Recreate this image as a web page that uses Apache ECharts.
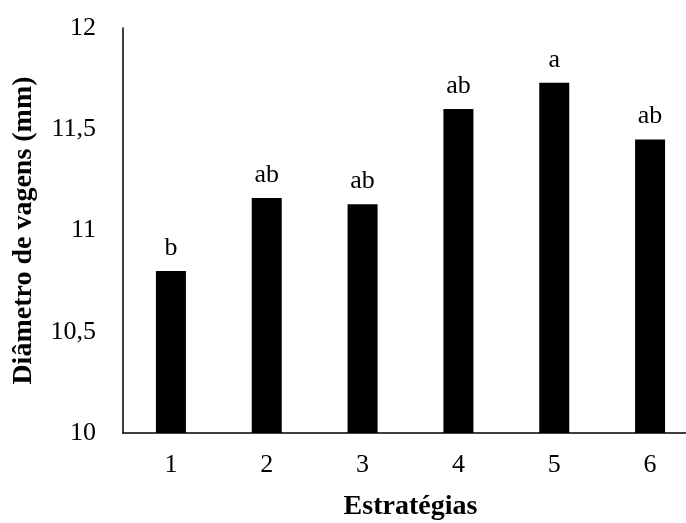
<!DOCTYPE html>
<html>
<head>
<meta charset="utf-8">
<script src="https://cdn.jsdelivr.net/npm/echarts@6/dist/echarts.min.js"></script>
<style>
  html, body { margin: 0; padding: 0; background: #fff; }
  #main { width: 686px; height: 523px; }
</style>
</head>
<body>
<div id="main"></div>
<script>
// valores
const estrategias = ['1', '2', '3', '4', '5', '6']
const diametro = [10.8, 11.16, 11.13, 11.6, 11.73, 11.45]
const letras = ['b', 'ab', 'ab', 'ab', 'a', 'ab']

const serif = '"Liberation Serif", "Times New Roman", serif'

const myChart = echarts.init(document.getElementById('main'))
const option = {
  backgroundColor: '#fff',
  animation: false,
  grid: { left: 123, width: 575, top: 28, bottom: 90, outerBoundsMode: 'none' },
  xAxis: {
    type: 'category',
    data: estrategias,
    name: 'Estratégias',
    nameLocation: 'middle',
    nameGap: 60,
    nameTextStyle: { fontFamily: serif, fontSize: 28, fontWeight: 'bold', color: '#000' },
    axisLine: { lineStyle: { color: '#000', width: 1.5 } },
    axisTick: { show: false },
    axisLabel: { fontFamily: serif, fontSize: 26, color: '#000', margin: 19 }
  },
  yAxis: {
    type: 'value',
    min: 10,
    max: 12,
    interval: 0.5,
    name: 'Diâmetro de vagens (mm)',
    nameLocation: 'middle',
    nameGap: 85,
    nameTextStyle: { fontFamily: serif, fontSize: 28, fontWeight: 'bold', color: '#000' },
    axisLine: { show: true, lineStyle: { color: '#000', width: 1.5 } },
    axisTick: { show: false },
    splitLine: { show: false },
    axisLabel: {
      fontFamily: serif, fontSize: 26, color: '#000', margin: 27,
      formatter: v => String(v).replace('.', ',')
    }
  },
  series: [
    {
      type: 'bar',
      data: diametro,
      barWidth: 30,
      itemStyle: { color: '#000' },
      label: {
        show: true,
        position: 'top',
        distance: 10,
        fontFamily: serif,
        fontSize: 26,
        color: '#000',
        formatter: p => letras[p.dataIndex]
      }
    }
  ]
}
myChart.setOption(option)
</script>
</body>
</html>
